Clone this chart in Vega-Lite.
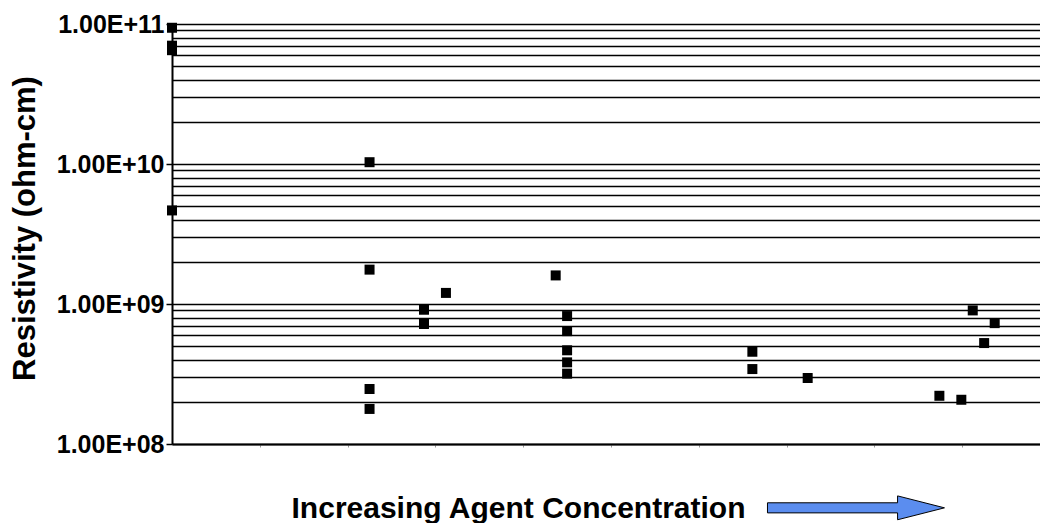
{
  "$schema": "https://vega.github.io/schema/vega-lite/v6.json",
  "width": 868,
  "height": 420,
  "autosize": "none",
  "padding": {"left": 172, "top": 24, "right": 0, "bottom": 79},
  "background": "white",
  "config": {"view": {"stroke": null}, "font": "Liberation Sans"},
  "datasets": {
    "points": [
      {"x": 0, "y": 9.4e10}, {"x": 0, "y": 7.0e10}, {"x": 0, "y": 6.5e10}, {"x": 0, "y": 4.66e9},
      {"x": 2.25, "y": 1.03e10}, {"x": 2.25, "y": 1.76e9}, {"x": 2.25, "y": 2.47e8}, {"x": 2.25, "y": 1.78e8},
      {"x": 2.87, "y": 9.1e8}, {"x": 2.87, "y": 7.2e8},
      {"x": 3.12, "y": 1.2e9},
      {"x": 4.37, "y": 1.6e9},
      {"x": 4.5, "y": 8.2e8}, {"x": 4.5, "y": 6.4e8}, {"x": 4.5, "y": 4.67e8}, {"x": 4.5, "y": 3.83e8}, {"x": 4.5, "y": 3.18e8},
      {"x": 6.61, "y": 4.56e8}, {"x": 6.61, "y": 3.43e8},
      {"x": 7.24, "y": 2.96e8},
      {"x": 8.74, "y": 2.21e8},
      {"x": 8.99, "y": 2.07e8},
      {"x": 9.12, "y": 9.0e8},
      {"x": 9.25, "y": 5.26e8},
      {"x": 9.37, "y": 7.3e8}
    ],
    "arrow": [{"x": 7.79, "y": 3.5e7}]
  },
  "layer": [
    {
      "data": {"name": "points"},
      "mark": {"type": "point", "shape": "square", "filled": true, "size": 100, "color": "black", "opacity": 1},
      "encoding": {
        "x": {
          "field": "x", "type": "quantitative",
          "scale": {"domain": [0, 9.886], "nice": false, "zero": false},
          "axis": {
            "values": [1, 2, 3, 4, 5, 6, 7, 8, 9],
            "labels": false, "grid": false,
            "ticks": true, "tickSize": 3, "tickColor": "#999999", "tickWidth": 1,
            "domainColor": "black", "domainWidth": 2,
            "title": "Increasing Agent Concentration",
            "titleFont": "Liberation Sans", "titleFontSize": 30, "titleFontWeight": "bold", "titleColor": "black",
            "titleX": 346, "titleY": 64, "titleAlign": "center", "titleBaseline": "middle"
          }
        },
        "y": {
          "field": "y", "type": "quantitative",
          "scale": {"type": "log", "domain": [1e8, 1e11], "nice": false},
          "axis": {
            "values": [1e8, 2e8, 3e8, 4e8, 5e8, 6e8, 7e8, 8e8, 9e8, 1e9, 2e9, 3e9, 4e9, 5e9, 6e9, 7e9, 8e9, 9e9, 1e10, 2e10, 3e10, 4e10, 5e10, 6e10, 7e10, 8e10, 9e10, 1e11],
            "labelExpr": "datum.value == 1e8 ? '1.00E+08' : datum.value == 1e9 ? '1.00E+09' : datum.value == 1e10 ? '1.00E+10' : datum.value == 1e11 ? '1.00E+11' : ''",
            "labelFont": "Liberation Sans", "labelFontSize": 25, "labelFontWeight": "bold", "labelColor": "black",
            "labelPadding": 2, "labelOverlap": false, "labelBound": false, "labelFlush": false,
            "grid": true, "gridColor": "black", "gridWidth": 1.5, "gridOpacity": 1,
            "tickSize": 6, "tickWidth": 1.5,
            "tickColor": {"condition": {"test": "datum.value == 1e8 || datum.value == 1e9 || datum.value == 1e10 || datum.value == 1e11", "value": "black"}, "value": "transparent"},
            "domainColor": "black", "domainWidth": 2,
            "title": "Resistivity (ohm-cm)",
            "titleFont": "Liberation Sans", "titleFontSize": 31, "titleFontWeight": "bold", "titleColor": "black",
            "titleX": -147, "titleY": 204, "titleAlign": "center", "titleBaseline": "middle", "titleAngle": -90
          }
        }
      }
    },
    {
      "data": {"name": "arrow"},
      "mark": {
        "type": "point",
        "shape": "M-1,-0.057 L0.47,-0.057 L0.47,-0.135 L1,0 L0.47,0.135 L0.47,0.057 L-1,0.057 Z",
        "filled": true, "size": 31329, "fill": "#5B8DEF", "stroke": "black", "strokeWidth": 1, "opacity": 1
      },
      "encoding": {
        "x": {"field": "x", "type": "quantitative"},
        "y": {"field": "y", "type": "quantitative"}
      }
    }
  ]
}
